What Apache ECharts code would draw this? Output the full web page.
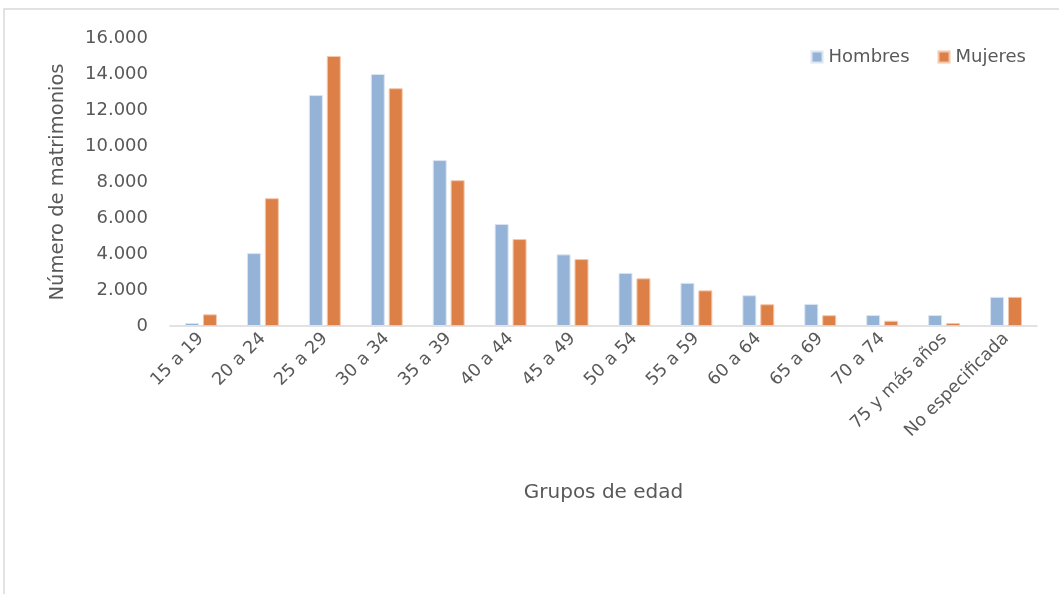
<!DOCTYPE html>
<html>
<head>
<meta charset="utf-8">
<script src="https://cdn.jsdelivr.net/npm/echarts@6/dist/echarts.min.js"></script>
<style>html,body{margin:0;padding:0;background:#fff}#c{width:1059px;height:594px}</style>
</head>
<body>
<div id="c"></div>
<script>
const categories = ['15 a 19','20 a 24','25 a 29','30 a 34','35 a 39','40 a 44','45 a 49','50 a 54','55 a 59','60 a 64','65 a 69','70 a 74','75 y más años','No especificada'];
const hombres = [170, 4050, 12830, 14000, 9220, 5670, 3980, 2950, 2400, 1710, 1230, 610, 610, 1620];
const mujeres = [650, 7100, 15000, 13210, 8100, 4830, 3720, 2650, 1980, 1210, 600, 290, 170, 1620];
const yTicks = { min: 0, max: 16000, interval: 2000 };
const FONT = 'DejaVu Sans';
const TXT = '#595959';
const chart = echarts.init(document.getElementById('c'));
const fmt = v => String(v).replace(/\B(?=(\d{3})+(?!\d))/g, '.');
chart.setOption({
  animation: false,
  textStyle: { fontFamily: FONT },
  graphic: [{ type: 'rect', shape: { x: 4, y: 9, width: 1200, height: 800 }, style: { fill: 'none', stroke: '#d9d9d9', lineWidth: 1.5 }, silent: true }],
  legend: {
    right: 28, top: 43, itemWidth: 11, itemHeight: 11, itemGap: 28,
    icon: 'rect',
    textStyle: { color: TXT, fontSize: 18, fontFamily: FONT, padding: [0, 0, 0, 1] },
    data: ['Hombres', 'Mujeres']
  },
  grid: { left: 170, right: 22, top: 38, bottom: 268 },
  xAxis: {
    type: 'category', data: categories,
    axisLine: { lineStyle: { color: '#d9d9d9', width: 1.5 } },
    axisTick: { show: false },
    axisLabel: { rotate: 45, color: TXT, fontSize: 17.5, fontFamily: FONT, interval: 0, margin: 10 },
    name: 'Grupos de edad', nameLocation: 'middle', nameGap: 157,
    nameTextStyle: { color: TXT, fontSize: 20, fontFamily: FONT }
  },
  yAxis: {
    type: 'value', min: yTicks.min, max: yTicks.max, interval: yTicks.interval,
    splitLine: { show: false },
    axisLine: { show: false }, axisTick: { show: false },
    axisLabel: { color: TXT, fontSize: 18, fontFamily: FONT, margin: 22, formatter: fmt },
    name: 'Número de matrimonios', nameLocation: 'middle', nameGap: 102, nameRotate: 90,
    nameTextStyle: { color: TXT, fontSize: 19.5, fontFamily: FONT }
  },
  series: [
    { name: 'Hombres', type: 'bar', data: hombres, barWidth: 14, barGap: '28%',
      itemStyle: { color: '#95B3D7', borderColor: '#dbe6f2', borderWidth: 1 } },
    { name: 'Mujeres', type: 'bar', data: mujeres, barWidth: 14,
      itemStyle: { color: '#DD8047', borderColor: '#f2c8ae', borderWidth: 1 } }
  ]
});
</script>
</body>
</html>
